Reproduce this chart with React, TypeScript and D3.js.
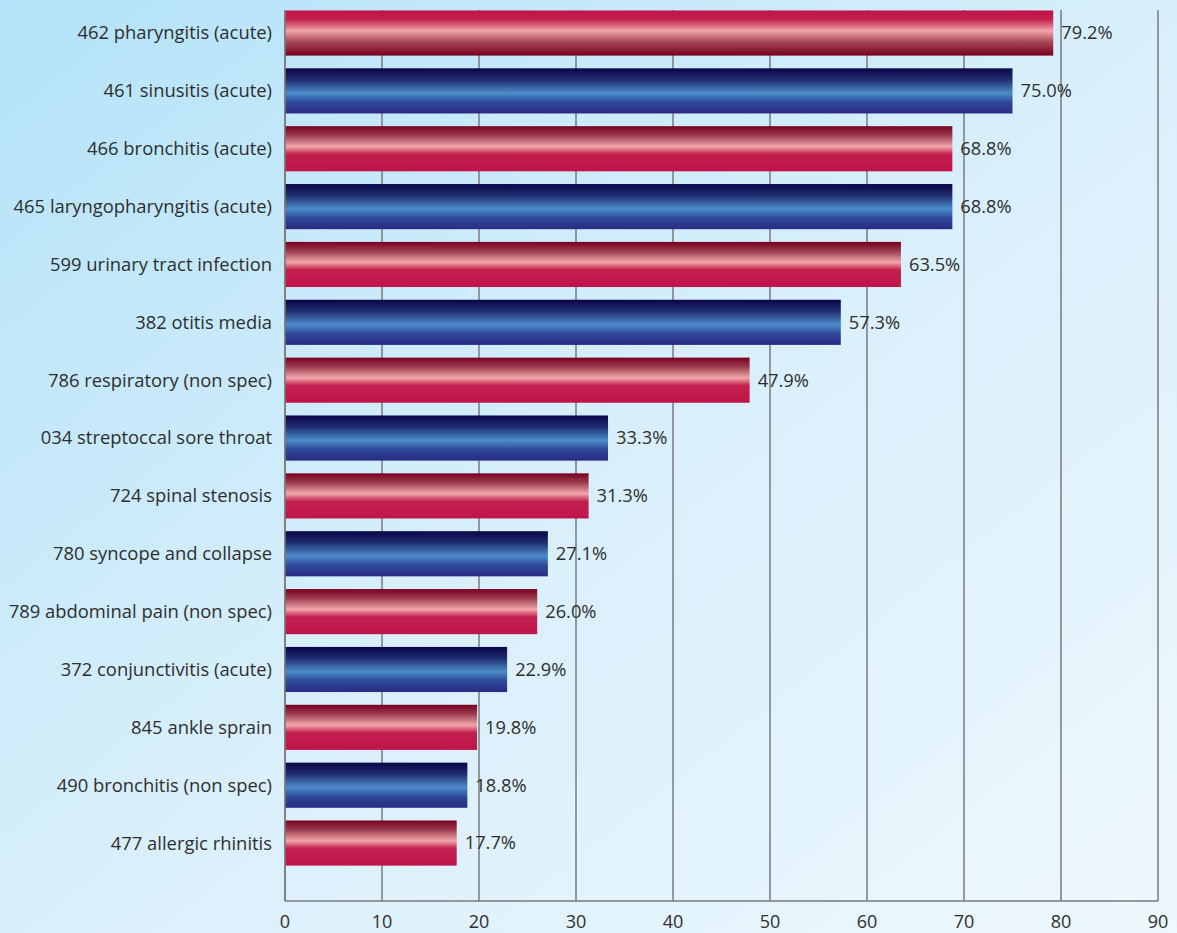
import React from "react";
import * as d3 from "d3";

const categories = [
  "462 pharyngitis (acute)",
  "461 sinusitis (acute)",
  "466 bronchitis (acute)",
  "465 laryngopharyngitis (acute)",
  "599 urinary tract infection",
  "382 otitis media",
  "786 respiratory (non spec)",
  "034 streptoccal sore throat",
  "724 spinal stenosis",
  "780 syncope and collapse",
  "789 abdominal pain (non spec)",
  "372 conjunctivitis (acute)",
  "845 ankle sprain",
  "490 bronchitis (non spec)",
  "477 allergic rhinitis",
];
const values = [79.2, 75.0, 68.8, 68.8, 63.5, 57.3, 47.9, 33.3, 31.3, 27.1, 26.0, 22.9, 19.8, 18.8, 17.7];
const xTicks = [0, 10, 20, 30, 40, 50, 60, 70, 80, 90];

const W = 1177;
const H = 933;
const FONT = "'Open Sans', 'Noto Sans', sans-serif";

export default function App() {
  const x = d3.scaleLinear().domain([0, 90]).range([285, 1158]);
  const y = d3
    .scaleBand<string>()
    .domain(categories)
    .range([4.1, 872])
    .paddingInner(0.22)
    .paddingOuter(0.11);
  const top = 10;
  const bottom = 901;

  return (
    <svg
      width={W}
      height={H}
      style={{ position: "absolute", left: 0, top: 0, display: "block" }}
    >
      <defs>
        <linearGradient id="bg" x1="0" y1="0" x2="1" y2="1">
          <stop offset="0" stopColor="#b3e2f8" />
          <stop offset="0.5" stopColor="#d8effb" />
          <stop offset="1" stopColor="#eef8fd" />
        </linearGradient>
        <linearGradient id="redA" x1="0" y1="0" x2="0" y2="1">
          <stop offset="0" stopColor="#c0144a" />
          <stop offset="0.2" stopColor="#c2204f" />
          <stop offset="0.45" stopColor="#f2a6aa" />
          <stop offset="0.7" stopColor="#a64658" />
          <stop offset="1" stopColor="#780020" />
        </linearGradient>
        <linearGradient id="redB" x1="0" y1="0" x2="0" y2="1">
          <stop offset="0" stopColor="#780020" />
          <stop offset="0.2" stopColor="#9a3a4e" />
          <stop offset="0.45" stopColor="#f2a6aa" />
          <stop offset="0.62" stopColor="#c2204f" />
          <stop offset="1" stopColor="#c0144a" />
        </linearGradient>
        <linearGradient id="blue" x1="0" y1="0" x2="0" y2="1">
          <stop offset="0" stopColor="#0a0548" />
          <stop offset="0.25" stopColor="#1f2d70" />
          <stop offset="0.55" stopColor="#4c8ccb" />
          <stop offset="0.75" stopColor="#2e4a98" />
          <stop offset="1" stopColor="#2a2a82" />
        </linearGradient>
      </defs>
      <rect x={0} y={0} width={W} height={H} fill="url(#bg)" />

      {xTicks.map((t) => (
        <line
          key={"g" + t}
          x1={x(t)}
          x2={x(t)}
          y1={top}
          y2={bottom}
          stroke="#7a7a7a"
          strokeWidth={1.5}
        />
      ))}
      <line x1={x(0)} x2={x(90)} y1={bottom} y2={bottom} stroke="#7a7a7a" strokeWidth={1.5} />

      {categories.map((c, i) => {
        const fill = i % 2 === 1 ? "url(#blue)" : i === 0 ? "url(#redA)" : "url(#redB)";
        const by = y(c)!;
        return (
          <g key={c}>
            <rect x={x(0)} y={by} width={x(values[i]) - x(0)} height={y.bandwidth()} fill={fill} />
            <text
              x={x(values[i]) + 8}
              y={by + y.bandwidth() / 2}
              dy="0.35em"
              fontFamily={FONT}
              fontSize={18.3}
              fill="#2e2e2e"
            >
              {values[i].toFixed(1) + "%"}
            </text>
            <text
              x={272}
              y={by + y.bandwidth() / 2}
              dy="0.35em"
              textAnchor="end"
              fontFamily={FONT}
              fontSize={18.4}
              fill="#2e2e2e"
            >
              {c}
            </text>
          </g>
        );
      })}

      <line x1={x(0)} x2={x(0)} y1={top} y2={bottom} stroke="#7a7a7a" strokeWidth={1.5} />

      {xTicks.map((t) => (
        <text
          key={"t" + t}
          x={x(t)}
          y={922}
          dy="0.35em"
          textAnchor="middle"
          fontFamily={FONT}
          fontSize={18}
          fill="#2e2e2e"
        >
          {t}
        </text>
      ))}
    </svg>
  );
}
